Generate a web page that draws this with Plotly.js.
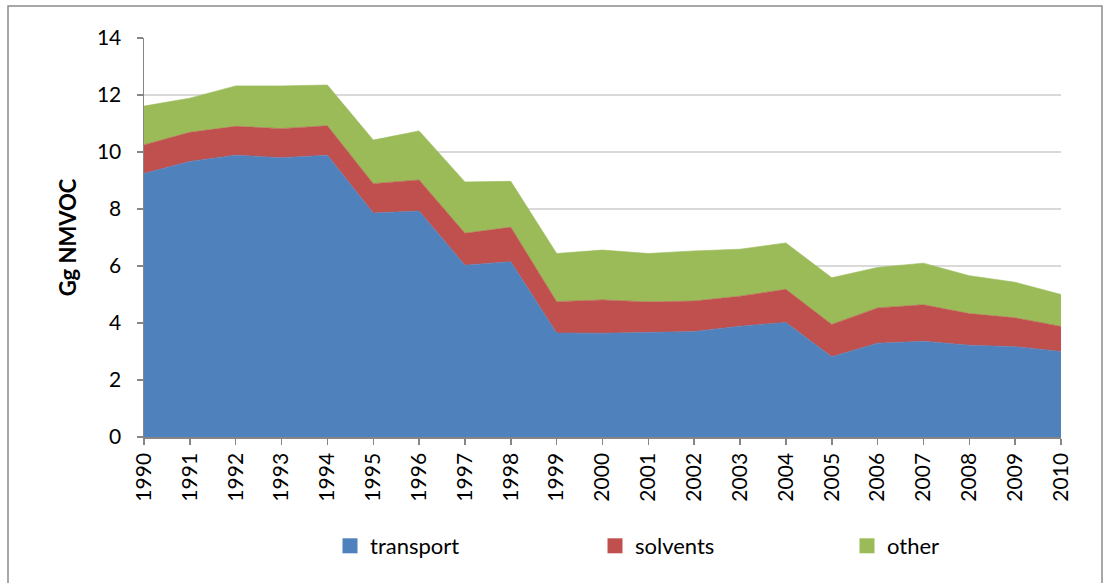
<!DOCTYPE html>
<html>
<head>
<meta charset="utf-8">
<script src="https://cdn.plot.ly/plotly-3.0.1.min.js"></script>
<style>
html,body{margin:0;padding:0;background:#fff;}
#chart{width:1103px;height:583px;}
</style>
</head>
<body>
<div id="chart"></div>
<script>
const years = [1990,1991,1992,1993,1994,1995,1996,1997,1998,1999,2000,2001,2002,2003,2004,2005,2006,2007,2008,2009,2010];
const transport = [9.25,9.67,9.89,9.80,9.89,7.86,7.93,6.03,6.15,3.65,3.64,3.66,3.70,3.89,4.02,2.82,3.29,3.36,3.22,3.17,3.00];
const solvents  = [1.00,1.02,1.01,1.02,1.03,1.03,1.09,1.12,1.21,1.10,1.17,1.08,1.07,1.05,1.16,1.13,1.24,1.28,1.11,1.01,0.88];
const other     = [1.36,1.20,1.42,1.50,1.43,1.53,1.72,1.80,1.61,1.69,1.75,1.70,1.76,1.65,1.63,1.64,1.42,1.46,1.33,1.25,1.12];
const seriesNames = ['transport','solvents','other'];
const colors = ['#4F81BD','#C0504D','#9BBB59'];
const values = [transport, solvents, other];
const legendIds = ['legend','legend2','legend3'];

const font = "Lato, sans-serif";

const traces = [];
values.forEach((v,i)=>{
  traces.push({
    x: years, y: v, type:'scatter', mode:'lines',
    stackgroup:'one', fillcolor: colors[i],
    line:{width:0.6, color: colors[i]},
    name: seriesNames[i], showlegend:false, hoverinfo:'x+y+name'
  });
});
values.forEach((v,i)=>{
  traces.push({
    x:[null], y:[null], type:'scatter', mode:'markers', name: seriesNames[i],
    marker:{color: colors[i], symbol:'square', size:15}, showlegend:true,
    legend: legendIds[i]
  });
});

function leg(xpx){
  return {orientation:'h', x:(xpx-144)/917, xanchor:'left', y:(437-546)/399, yanchor:'middle',
          bgcolor:'rgba(0,0,0,0)', font:{family:font, size:22, color:'#000'}};
}

const layout = {
  width:1103, height:583,
  margin:{l:144, r:42, t:38, b:146, autoexpand:false},
  paper_bgcolor:'#fff', plot_bgcolor:'#fff',
  font:{family:font, color:'#000', size:21},
  showlegend:true,
  legend: leg(330),
  legend2: leg(595),
  legend3: leg(847),
  xaxis:{
    range:[1990,2010], tickmode:'array', tickvals: years, ticktext: years.map(String),
    tickangle:-90, showgrid:false, zeroline:false,
    showline:true, linecolor:'#868686', linewidth:1.5,
    ticks:'outside', ticklen:6, tickcolor:'#868686', tickwidth:1.5,
    tickfont:{family:font, size:21, color:'#000'}, fixedrange:true
  },
  yaxis:{
    range:[0,14], dtick:2, tick0:0,
    showgrid:true, gridcolor:'#d9d9d9', gridwidth:1.5, zeroline:false,
    showline:true, linecolor:'#868686', linewidth:1.5,
    ticks:'outside', ticklen:6, tickcolor:'#868686', tickwidth:1.5,
    ticklabelstandoff:11,
    tickfont:{family:font, size:21, color:'#000'},
    title:{text:'<b>Gg NMVOC</b>', font:{family:font, size:22, color:'#000'}, standoff:14},
    fixedrange:true
  },
  shapes:[{
    type:'rect', xref:'paper', yref:'paper',
    x0:(8-144)/917, x1:(1102-144)/917, y0:(437-600)/399, y1:(437-6)/399,
    line:{color:'#8c8c8c', width:1.5}, fillcolor:'rgba(0,0,0,0)', layer:'below'
  }]
};

Plotly.newPlot('chart', traces, layout, {displayModeBar:false, staticPlot:true});
</script>
</body>
</html>
